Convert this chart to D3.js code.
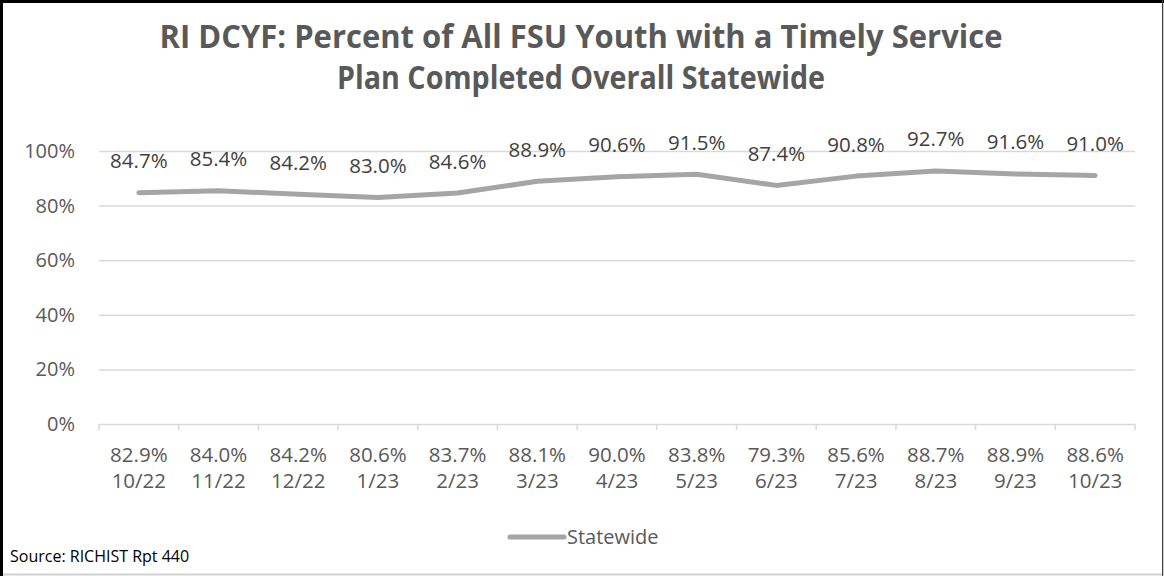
<!DOCTYPE html>
<html>
<head>
<meta charset="utf-8">
<script src="https://cdn.jsdelivr.net/npm/d3@7"></script>
<style>
  body { margin: 0; background: #fff; }
  svg text { font-family: "Open Sans", "DejaVu Sans", sans-serif; }
</style>
</head>
<body>
<svg class="chart" width="1164" height="576"></svg>
<script>
// chart data
var months = [ "10/22", "11/22", "12/22", "1/23", "2/23", "3/23", "4/23", "5/23", "6/23", "7/23", "8/23", "9/23", "10/23" ];
var statewide = [ 84.7, 85.4, 84.2, 83.0, 84.6, 88.9, 90.6, 91.5, 87.4, 90.8, 92.7, 91.6, 91.0 ];
var lowerValues = [ 82.9, 84.0, 84.2, 80.6, 83.7, 88.1, 90.0, 83.8, 79.3, 85.6, 88.7, 88.9, 88.6 ];
var yTicks = [ 0, 20, 40, 60, 80, 100 ];

var svg = d3.select( ".chart" );

// scales
var x = d3.scaleBand()
	.domain( months )
	.range( [ 99, 1135 ] )
	.padding( 0 );

var y = d3.scaleLinear()
	.domain( [ 0, 100 ] )
	.range( [ 424, 151 ] );

function cx( i ) { return x( months[i] ) + x.bandwidth() / 2; }

// frame
svg.append( "rect" )
	.attr( "x", 0.5 ).attr( "y", 0.5 )
	.attr( "width", 1162.5 ).attr( "height", 574 )
	.attr( "fill", "none" )
	.attr( "stroke", "#d0d0d0" )
	.attr( "stroke-width", 2 );
svg.append( "line" )
	.attr( "x1", 1.5 ).attr( "x2", 1.5 ).attr( "y1", 0 ).attr( "y2", 576 )
	.attr( "stroke", "#000" ).attr( "stroke-width", 3 );
svg.append( "line" )
	.attr( "x1", 0 ).attr( "x2", 1164 ).attr( "y1", 1.5 ).attr( "y2", 1.5 )
	.attr( "stroke", "#000" ).attr( "stroke-width", 3 );
svg.append( "line" )
	.attr( "x1", 1162.5 ).attr( "x2", 1162.5 ).attr( "y1", 0 ).attr( "y2", 576 )
	.attr( "stroke", "#404040" ).attr( "stroke-width", 1 );

// title
var title = svg.append( "g" )
	.attr( "fill", "#595959" )
	.style( "font-weight", "bold" )
	.style( "font-size", "32px" )
	.attr( "text-anchor", "middle" );
title.append( "text" )
	.attr( "x", 581 ).attr( "y", 48 )
	.attr( "textLength", 843 )
	.attr( "lengthAdjust", "spacingAndGlyphs" )
	.text( "RI DCYF: Percent of All FSU Youth with a Timely Service" );
title.append( "text" )
	.attr( "x", 581 ).attr( "y", 89 )
	.attr( "textLength", 488 )
	.attr( "lengthAdjust", "spacingAndGlyphs" )
	.text( "Plan Completed Overall Statewide" );

// y axis with gridlines
var yAxis = svg.append( "g" )
	.attr( "transform", "translate(" + x.range()[0] + ",0)" )
	.call( d3.axisLeft( y )
		.tickValues( yTicks )
		.tickFormat( function( d ) { return d + "%"; } )
		.tickSizeInner( -( x.range()[1] - x.range()[0] ) )
		.tickSizeOuter( 0 )
		.tickPadding( 24 ) );
yAxis.select( ".domain" ).remove();
yAxis.selectAll( "line" ).attr( "stroke", "#d9d9d9" ).attr( "stroke-width", 1.5 );
yAxis.selectAll( "text" )
	.attr( "fill", "#595959" )
	.style( "font-size", "20px" );

// x axis tick marks at category boundaries
var bounds = d3.range( months.length + 1 ).map( function( i ) { return x.range()[0] + i * x.step(); } );
svg.append( "g" ).selectAll( "line" )
	.data( bounds )
	.join( "line" )
	.attr( "x1", function( d ) { return d; } )
	.attr( "x2", function( d ) { return d; } )
	.attr( "y1", y( 0 ) )
	.attr( "y2", y( 0 ) + 6 )
	.attr( "stroke", "#d9d9d9" )
	.attr( "stroke-width", 1.5 );

// x labels (two lines)
var xLab = svg.append( "g" ).selectAll( "text" )
	.data( months )
	.join( "text" )
	.attr( "text-anchor", "middle" )
	.attr( "fill", "#595959" )
	.style( "font-size", "20.5px" );
xLab.append( "tspan" )
	.attr( "x", function( d, i ) { return cx( i ); } )
	.attr( "y", 462 )
	.text( function( d, i ) { return lowerValues[i].toFixed( 1 ) + "%"; } );
xLab.append( "tspan" )
	.attr( "x", function( d, i ) { return cx( i ); } )
	.attr( "y", 488 )
	.text( function( d ) { return d; } );

// line
var line = d3.line()
	.x( function( d, i ) { return cx( i ); } )
	.y( function( d ) { return y( d ); } );

svg.append( "path" )
	.datum( statewide )
	.attr( "d", line )
	.attr( "fill", "none" )
	.attr( "stroke", "#a5a5a5" )
	.attr( "stroke-width", 5 )
	.attr( "stroke-linecap", "round" )
	.attr( "stroke-linejoin", "round" );

// data labels
svg.append( "g" ).selectAll( "text" )
	.data( statewide )
	.join( "text" )
	.attr( "x", function( d, i ) { return cx( i ); } )
	.attr( "y", function( d ) { return y( d ) - 24.5; } )
	.attr( "text-anchor", "middle" )
	.attr( "fill", "#404040" )
	.style( "font-size", "20.5px" )
	.text( function( d ) { return d.toFixed( 1 ) + "%"; } );

// legend
var legend = svg.append( "g" ).attr( "class", "legenda" );
legend.append( "line" )
	.attr( "x1", 510 ).attr( "x2", 564 )
	.attr( "y1", 537 ).attr( "y2", 537 )
	.attr( "stroke", "#a5a5a5" )
	.attr( "stroke-width", 5 )
	.attr( "stroke-linecap", "round" );
legend.append( "text" )
	.attr( "x", 567 ).attr( "y", 544 )
	.attr( "fill", "#595959" )
	.style( "font-size", "20px" )
	.text( "Statewide" );

// source
svg.append( "text" )
	.attr( "x", 10 ).attr( "y", 562 )
	.attr( "fill", "#000" )
	.style( "font-size", "16px" )
	.text( "Source: RICHIST Rpt 440" );
</script>
</body>
</html>
